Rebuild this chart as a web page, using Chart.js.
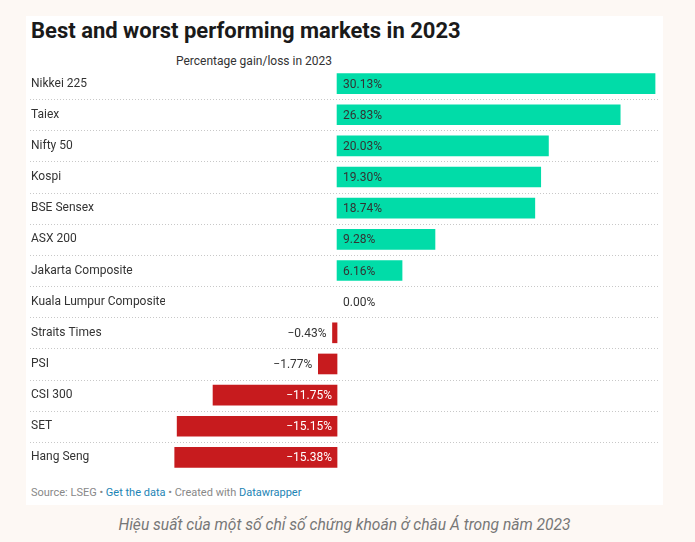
<!DOCTYPE html>
<html>
<head>
<meta charset="utf-8">
<script src="https://cdn.jsdelivr.net/npm/chart.js@4.4.1/dist/chart.umd.min.js"></script>
<style>
  html, body { margin: 0; padding: 0; }
  body { width: 695px; height: 542px; background: #fdf8f4; position: relative; font-family: Roboto, "Noto Sans", sans-serif; overflow: hidden; }
  #card { position: absolute; left: 26px; top: 16px; width: 637px; height: 489px; background: #fff; }
  #title { position: absolute; left: 5px; top: 2px; font-size: 22px; font-weight: bold; color: #1a1a1a; white-space: nowrap; }
  #sub { position: absolute; left: 150px; top: 38px; font-size: 12px; color: #333; white-space: nowrap; }
  #chartBox { position: absolute; left: 0; top: 52px; width: 637px; height: 405px; }
  #foot { position: absolute; left: 5px; top: 470px; font-size: 11px; color: #888; white-space: nowrap; }
  #foot a { color: #1d84b5; text-decoration: none; }
  #caption { position: absolute; left: -3px; width: 695px; top: 516px; text-align: center; font-size: 15.6px; font-style: italic; color: #777; }
</style>
</head>
<body>
<div id="card">
  <div id="title">Best and worst performing markets in 2023</div>
  <div id="sub">Percentage gain/loss in 2023</div>
  <div id="chartBox"><canvas id="barChart"></canvas></div>
  <div id="foot">Source: LSEG • <a>Get the data</a> • Created with <a>Datawrapper</a></div>
</div>
<div id="caption">Hiệu suất của một số chỉ số chứng khoán ở châu Á trong năm 2023</div>
<script>
const markets = ['Nikkei 225', 'Taiex', 'Nifty 50', 'Kospi', 'BSE Sensex', 'ASX 200',
    'Jakarta Composite', 'Kuala Lumpur Composite', 'Straits Times', 'PSI', 'CSI 300', 'SET', 'Hang Seng'];
const changes = [30.13, 26.83, 20.03, 19.30, 18.74, 9.28, 6.16, 0.00, -0.43, -1.77, -11.75, -15.15, -15.38];

const GREEN = '#01dca8';
const RED = '#c71b1e';

function fmt(v) {
    return v.toFixed(2).replace('-', '\u2212') + '%';
}

// dotted separators between rows, across the full width
const rowLines = {
    id: 'rowLines',
    beforeDatasetsDraw(chart) {
        const ctx = chart.ctx;
        const y = chart.scales.y;
        ctx.save();
        ctx.strokeStyle = '#c8c8c8';
        ctx.lineWidth = 1;
        ctx.setLineDash([1, 2]);
        for (let i = 0; i < markets.length - 1; i++) {
            const py = Math.round((y.getPixelForValue(i) + y.getPixelForValue(i + 1)) / 2) + 0.5;
            ctx.beginPath();
            ctx.moveTo(4, py);
            ctx.lineTo(634, py);
            ctx.stroke();
        }
        ctx.restore();
    }
};

// value labels
const valueLabels = {
    id: 'valueLabels',
    afterDatasetsDraw(chart) {
        const ctx = chart.ctx;
        const meta = chart.getDatasetMeta(0);
        ctx.save();
        ctx.font = '12px Roboto';
        ctx.textBaseline = 'middle';
        meta.data.forEach((bar, i) => {
            const v = changes[i];
            const txt = fmt(v);
            const w = ctx.measureText(txt).width;
            if (v >= 0) {
                ctx.fillStyle = '#333';
                ctx.textAlign = 'left';
                ctx.fillText(txt, bar.base + 6, bar.y + 1);
            } else if (bar.base - bar.x > w + 12) {
                ctx.fillStyle = '#fff';
                ctx.textAlign = 'right';
                ctx.fillText(txt, bar.base - 5, bar.y + 1);
            } else {
                ctx.fillStyle = '#333';
                ctx.textAlign = 'right';
                ctx.fillText(txt, bar.x - 6, bar.y + 1);
            }
        });
        ctx.restore();
    }
};

new Chart(document.getElementById('barChart'), {
    type: 'bar',
    data: {
        labels: markets,
        datasets: [{
            data: changes,
            backgroundColor: changes.map(v => v > 0 ? GREEN : (v < 0 ? RED : 'rgba(0,0,0,0)')),
            barThickness: 20,
            borderWidth: 0
        }]
    },
    plugins: [rowLines, valueLabels],
    options: {
        indexAxis: 'y',
        responsive: true,
        maintainAspectRatio: false,
        animation: false,
        layout: { padding: { left: 5, right: 3, top: 0, bottom: 0 } },
        plugins: {
            legend: { display: false },
            tooltip: { enabled: false }
        },
        scales: {
            x: {
                display: false,
                min: -16.3,
                max: 30.6
            },
            y: {
                grid: { display: false, drawTicks: false },
                border: { display: false },
                afterFit(scale) {
                    scale.width = 134;
                    scale.paddingTop = 0;
                    scale.paddingBottom = 0;
                },
                ticks: {
                    crossAlign: 'far',
                    padding: 0,
                    color: '#333',
                    font: { family: 'Roboto', size: 12 }
                }
            }
        }
    }
});
</script>
</body>
</html>
